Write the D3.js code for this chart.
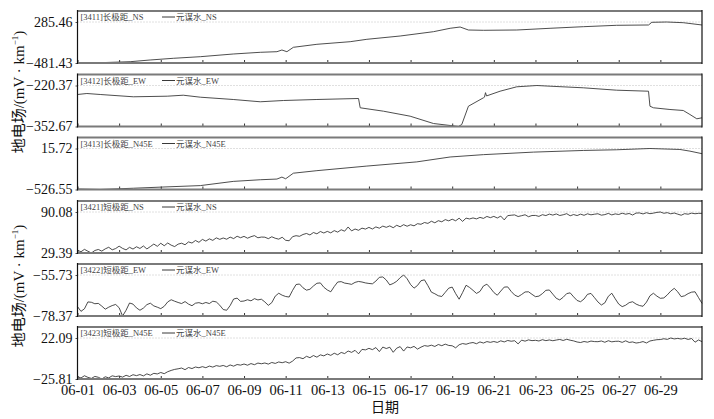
<!DOCTYPE html>
<html>
<head>
<meta charset="utf-8">
<script src="https://cdn.jsdelivr.net/npm/d3@7"></script>
<style>
  body { margin: 0; background: #fff; }
  svg { display: block; }
  text { font-family: "Liberation Serif", "Noto Sans CJK SC", serif; }
</style>
</head>
<body>
<div id="chart"></div>
<script>
// x tick labels (every 2 days)
const xTickLabels = ["06-01", "06-03", "06-05", "06-07", "06-09", "06-11", "06-13", "06-15",
  "06-17", "06-19", "06-21", "06-23", "06-25", "06-27", "06-29"];

const stationLabels = ["[3411]长极距_NS", "[3412]长极距_EW", "[3413]长极距_N45E",
  "[3421]短极距_NS", "[3422]短极距_EW", "[3423]短极距_N45E"];
const legendLabels = ["元谋水_NS", "元谋水_EW", "元谋水_N45E", "元谋水_NS", "元谋水_EW", "元谋水_N45E"];

// y tick values (bottom / top of each panel)
const yMin = [-481.43, -352.67, -526.55, 29.39, -78.37, -25.81];
const yMax = [285.46, -220.37, 15.72, 90.08, -55.73, 22.09];

// long baseline series: days since 06-01 00:00 and values
const days1 = [0, 1.09, 2.53, 3.49, 4.6, 5.9, 7.48, 8.78, 9.58, 9.82, 10.06, 10.37, 11.5, 13.1, 13.9,
  15.5, 17.1, 17.9, 18.38, 18.78, 19.5, 21.1, 22.7, 24.3, 25.9, 27.43, 27.59, 28.3, 29.1, 30];
const vals1 = [-481.43, -475.8, -457.1, -425.3, -393.5, -363.6, -313.1, -281.3, -270.1, -238.3, -270.1,
  -187.8, -131.6, -83.0, -38.1, 23.6, 104.1, 167.7, 191.9, 135.7, 130.2, 135.7, 167.7, 197.6, 223.8,
  229.4, 279.9, 285.46, 272.4, 229.4];

const days2 = [0, 0.45, 1.09, 2.68, 4.31, 5.08, 5.9, 7.48, 8.78, 9.89, 11.5, 13.5, 13.58, 14.7, 15.98,
  17.1, 17.9, 18.3, 18.46, 18.78, 19.5, 19.55, 19.6, 19.65, 20.3, 21.1, 22.07, 22.7, 24.3, 25.9, 27.43,
  27.5, 27.67, 28.46, 29.1, 29.42, 29.75, 30];
const vals2 = [-249.4, -246.2, -249.4, -256.8, -254.9, -251.7, -258.1, -265.5, -272.9, -268.8, -265.5,
  -262.3, -292.3, -303.3, -319.4, -343.0, -349.4, -352.67, -346.2, -287.2, -260.1, -258.0, -243.5,
  -254.0, -238.8, -224.6, -220.37, -222.6, -227.8, -235.5, -238.8, -287.2, -292.3, -297.8, -301.0,
  -313.9, -327.8, -324.6];

const days3 = [0, 1.09, 2.69, 4.3, 5.9, 7.48, 8.78, 9.58, 9.82, 10.0, 10.37, 11.5, 13.9, 16.3, 17.9,
  19.5, 21.9, 24.3, 25.9, 27.5, 28.94, 29.42, 30];
const vals3 = [-520.0, -526.55, -509.8, -491.7, -474.9, -419.4, -397.5, -388.4, -362.6, -384.6, -311.0,
  -277.4, -216.7, -161.2, -96.6, -65.7, -32.1, -10.2, -1.1, 15.72, 2.8, -19.2, -52.8];

// short baseline series, sampled every 4 hours from 06-01 00:00
const vals4 = [
  33.5, 31.2, 34.8, 32.0, 29.39, 33.1,
  34.6, 32.2, 35.5, 37.9, 34.1, 36.0,
  39.5, 36.2, 34.0, 37.8, 35.2, 38.6,
  36.1, 39.8, 35.4, 38.9, 42.6, 39.3,
  43.8, 40.1, 44.2, 41.0, 38.9, 42.5,
  43.9, 41.6, 45.8, 44.1, 47.9, 45.2,
  49.5, 47.0, 50.3, 48.1, 51.8, 49.6,
  51.6, 49.8, 52.9, 50.7, 54.2, 52.0,
  54.0, 51.3, 53.5, 55.1, 51.9, 53.0,
  52.8, 50.6, 53.4, 51.2, 49.9, 52.7,
  48.2, 47.5, 53.6, 55.0, 54.1, 56.8,
  58.3, 56.1, 59.7, 57.8, 61.2, 59.0,
  61.4, 59.2, 62.5, 60.3, 63.8, 61.7,
  67.9, 62.1, 64.9, 63.0, 66.2, 64.8,
  67.3, 64.9, 68.0, 66.1, 69.2, 67.4,
  69.5, 66.8, 70.4, 68.2, 71.3, 69.0,
  71.2, 69.6, 72.8, 71.9, 74.5, 73.2,
  76.4, 74.1, 77.2, 75.6, 78.8, 77.0,
  79.4, 77.1, 80.9, 76.2, 81.0, 79.8,
  81.3, 79.9, 82.1, 80.6, 83.5, 81.7,
  83.6, 81.2, 84.0, 78.4, 84.7, 85.3,
  85.8, 83.4, 84.6, 86.0, 83.1, 84.9,
  85.0, 83.6, 86.1, 84.8, 87.0, 85.5,
  87.2, 84.9, 86.0, 87.6, 84.5, 86.3,
  84.8, 86.9, 85.2, 87.4, 85.9, 86.8,
  87.5, 85.4, 86.2, 88.0, 85.8, 87.3,
  86.4, 88.3, 86.8, 87.9, 85.6, 88.5,
  88.7, 87.2, 89.0, 87.6, 88.4, 89.5,
  90.08, 88.2, 89.1, 87.4, 88.6, 86.9,
  85.3, 87.6, 86.8, 88.4, 87.5, 88.1,
  88.1];

const vals5 = [
  -73.2, -75.8, -74.4, -70.6, -70.8, -71.6,
  -71.4, -72.9, -74.6, -73.5, -72.6, -72.0,
  -73.8, -78.37, -75.2, -71.2, -71.8, -73.9,
  -75.2, -74.0, -72.1, -71.3, -72.8, -73.5,
  -74.3, -73.0, -70.6, -69.4, -70.2, -70.9,
  -71.5, -70.4, -71.8, -72.7, -71.3, -71.0,
  -71.6, -70.9, -71.5, -70.2, -70.6, -72.4,
  -74.8, -75.2, -72.6, -69.0, -68.5, -70.3,
  -70.1, -69.4, -70.0, -68.8, -69.5, -69.1,
  -70.6, -72.5, -71.0, -67.4, -65.8, -66.9,
  -67.6, -67.9, -64.2, -61.0, -60.7, -62.8,
  -64.1, -63.6, -61.8, -60.3, -60.1, -62.5,
  -64.0, -65.0, -62.1, -59.6, -59.4, -60.2,
  -60.5, -60.9, -59.8, -59.3, -59.6, -60.1,
  -60.4, -60.6, -59.1, -57.0, -56.8, -58.5,
  -61.2, -60.4, -59.2, -57.2, -55.73, -57.8,
  -61.0, -63.0, -61.5, -58.9, -58.4, -61.6,
  -65.2, -66.1, -67.2, -67.6, -65.3, -63.0,
  -62.4, -66.0, -69.1, -65.4, -61.4, -62.6,
  -64.2, -65.9, -64.8, -61.8, -60.8, -62.9,
  -65.4, -66.9, -64.6, -62.4, -62.3, -64.8,
  -66.8, -67.7, -66.5, -65.1, -65.0, -66.4,
  -67.7, -67.4, -66.0, -64.2, -64.0, -66.3,
  -68.6, -69.5, -68.0, -66.0, -65.6, -67.8,
  -69.8, -70.5, -69.0, -66.4, -65.9, -68.2,
  -70.6, -72.3, -71.1, -67.5, -65.8, -68.9,
  -71.8, -73.2, -72.4, -71.0, -70.5, -71.8,
  -72.6, -73.0, -70.7, -67.2, -65.8, -67.4,
  -68.6, -68.4, -66.7, -64.6, -63.1, -65.0,
  -67.7, -67.2, -66.0, -65.2, -65.0, -68.2,
  -71.4];

const vals6 = [
  -23.1, -24.6, -22.0, -23.9, -25.1, -22.8,
  -23.8, -25.81, -23.2, -24.5, -22.1, -23.0,
  -22.3, -23.6, -21.5, -22.9, -20.8, -21.9,
  -20.6, -22.2, -19.8, -21.4, -19.2, -19.9,
  -18.2, -19.6, -17.3, -15.8, -14.6, -13.9,
  -13.0, -14.9, -12.4, -13.6, -11.8, -12.7,
  -11.4, -12.6, -10.7, -11.9, -10.2, -11.0,
  -10.0, -11.5, -9.4, -10.8, -8.9, -9.6,
  -8.3, -9.7, -7.8, -9.1, -7.2, -8.0,
  -7.1, -8.4, -6.5, -7.6, -5.9, -6.8,
  -5.6, -7.3, -4.9, -1.2, -0.8, -2.1,
  0.7, -0.9, 1.6, -0.3, 2.4, 1.2,
  3.4, 1.8, 4.3, 2.5, 5.2, 3.9,
  6.9, 5.3, 7.7, 3.6, 8.8, 8.2,
  10.0, 8.5, 10.9, 6.2, 11.5, 9.8,
  11.3, 5.4, 10.2, 12.0, 6.8, 11.6,
  10.6, 12.3, 9.1, 11.4, 13.2, 12.5,
  13.7, 12.2, 14.5, 13.1, 14.9, 13.4,
  13.0, 10.6, 14.2, 15.6, 14.8, 16.1,
  16.8, 15.4, 17.5, 16.2, 17.9, 17.0,
  18.0, 16.9, 18.8, 17.5, 19.2, 18.3,
  18.9, 15.2, 19.6, 18.4, 19.9, 19.0,
  19.4, 18.6, 20.1, 19.0, 19.8, 18.9,
  19.7, 20.4, 19.2, 20.6, 19.5, 18.7,
  17.4, 16.8, 18.0, 17.2, 18.5, 17.9,
  17.8, 18.6, 17.1, 18.9, 17.6, 18.2,
  18.3, 17.0, 18.8, 16.9, 17.5, 16.2,
  16.8, 17.9, 16.3, 18.6, 19.4, 20.1,
  20.3, 21.2, 20.5, 22.09, 21.0, 21.6,
  20.9, 21.8, 20.4, 21.5, 17.2, 19.8,
  17.8];

const startDate = Date.UTC(2020, 5, 1);
const dayMs = 864e5;

function pairs(days, vals) {
  return vals.map(function (v, i) {
    return { date: new Date(startDate + days[i] * dayMs), value: v };
  });
}
function pairsStep(vals, hours) {
  return vals.map(function (v, i) {
    return { date: new Date(startDate + i * hours * 36e5), value: v };
  });
}

const series = [
  pairs(days1, vals1),
  pairs(days2, vals2),
  pairs(days3, vals3),
  pairsStep(vals4, 4),
  pairsStep(vals5, 4),
  pairsStep(vals6, 4)
];

// LAYOUT
const W = 714, H = 419;
const left = 77.5, right = 702;
const panelTop = [11, 74.5, 137.5, 201, 264, 327];
const panelH = 52;
const headroom = 11;

const svg = d3.select("#chart").append("svg")
  .attr("width", W)
  .attr("height", H);

const parseTick = d3.utcParse("%m-%d");
const tickDates = xTickLabels.map(function (s) {
  const d = parseTick(s);
  return new Date(Date.UTC(2020, d.getUTCMonth(), d.getUTCDate()));
});

const x = d3.scaleUtc()
  .domain([new Date(startDate), new Date(startDate + 30 * dayMs)])
  .range([left, right]);

const fmt = d3.format(".2f");

series.forEach(function (data, k) {
  const top = panelTop[k], bottom = top + panelH;
  const y = d3.scaleLinear()
    .domain([yMin[k], yMax[k]])
    .range([bottom, top + headroom]);

  const g = svg.append("g");

  // dotted reference line at the max
  g.append("line")
    .attr("x1", left).attr("x2", right)
    .attr("y1", y(yMax[k])).attr("y2", y(yMax[k]))
    .attr("stroke", "#b0b0b0")
    .attr("stroke-width", 0.8)
    .attr("stroke-dasharray", "1,2");

  // data line
  g.append("path")
    .datum(data)
    .attr("fill", "none")
    .attr("stroke", k < 3 ? "#3a3a3a" : "#1e1e1e")
    .attr("stroke-width", k < 3 ? 0.9 : 0.8)
    .attr("d", d3.line()
      .x(function (d) { return x(d.date); })
      .y(function (d) { return y(d.value); }));

  // x axis (inward ticks)
  const xAxis = g.append("g")
    .attr("transform", "translate(0," + bottom + ")")
    .call(d3.axisBottom(x)
      .tickValues(tickDates)
      .tickSize(-3)
      .tickPadding(6)
      .tickFormat(k === 5 ? function (d, i) { return xTickLabels[i]; } : function () { return ""; }));
  xAxis.select(".domain").remove();
  xAxis.selectAll("line").attr("stroke", "#333");
  xAxis.selectAll("text")
    .attr("font-size", 14.5)
    .attr("fill", "#111")
    .attr("font-family", "Liberation Serif, serif");

  // y axis: min and max only
  const yAxis = g.append("g")
    .attr("transform", "translate(" + left + ",0)")
    .call(d3.axisLeft(y)
      .tickValues([yMin[k], yMax[k]])
      .tickSize(2)
      .tickPadding(3)
      .tickFormat(fmt));
  yAxis.select(".domain").remove();
  yAxis.selectAll("line").attr("stroke", "#555");
  yAxis.selectAll("text")
    .attr("font-size", 14)
    .attr("fill", "#111")
    .attr("font-family", "Liberation Serif, serif");

  // frame: gray top/bottom, black sides
  g.append("line").attr("x1", left).attr("x2", right).attr("y1", top).attr("y2", top)
    .attr("stroke", "#7a7a7a").attr("stroke-width", 2);
  g.append("line").attr("x1", left).attr("x2", right).attr("y1", bottom).attr("y2", bottom)
    .attr("stroke", "#7a7a7a").attr("stroke-width", 2);
  g.append("line").attr("x1", left).attr("x2", left).attr("y1", top - 1).attr("y2", bottom + 1)
    .attr("stroke", "#111").attr("stroke-width", 1.2);
  g.append("line").attr("x1", right).attr("x2", right).attr("y1", top - 1).attr("y2", bottom + 1)
    .attr("stroke", "#111").attr("stroke-width", 1.2);

  // station title + legend
  const title = g.append("text")
    .attr("x", left + 3)
    .attr("y", top + 9)
    .attr("font-size", 8.5)
    .attr("fill", "#444")
    .text(stationLabels[k]);
  const tEnd = left + 3 + title.node().getComputedTextLength();
  const lx = Math.max(162, tEnd + 5);
  g.append("line")
    .attr("x1", lx).attr("x2", lx + 13)
    .attr("y1", top + 6).attr("y2", top + 6)
    .attr("stroke", "#222").attr("stroke-width", 0.9);
  g.append("text")
    .attr("x", lx + 14)
    .attr("y", top + 9)
    .attr("font-size", 8.5)
    .attr("fill", "#444")
    .text(legendLabels[k]);
});

// Y-AXIS TITLES
[92, 286].forEach(function (cy) {
  const t = svg.append("text")
    .attr("transform", "translate(24," + cy + ") rotate(-90)")
    .attr("text-anchor", "middle")
    .attr("font-size", 15)
    .attr("fill", "#111");
  t.append("tspan").text("地电场/(mV · km");
  t.append("tspan").attr("font-size", 9).attr("dy", -6).text("−1");
  t.append("tspan").attr("dy", 6).text(")");
});

// X-AXIS TITLE
svg.append("text")
  .attr("x", 385)
  .attr("y", 412)
  .attr("text-anchor", "middle")
  .attr("font-size", 14)
  .attr("fill", "#111")
  .text("日期");
</script>
</body>
</html>
